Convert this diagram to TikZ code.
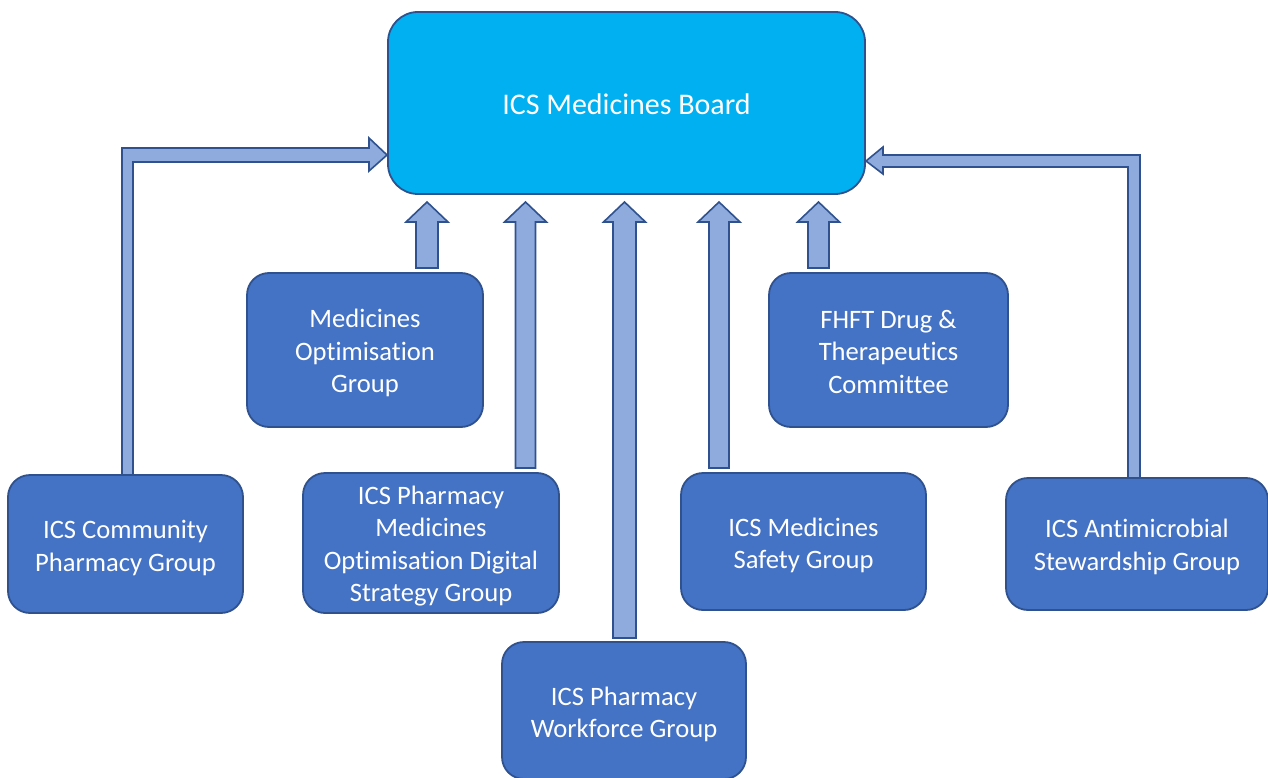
\documentclass[tikz,border=0pt]{standalone}
\usepackage{fontspec}
\setmainfont{Carlito}[Ligatures=NoCommon]
\definecolor{boxc}{HTML}{4472C4}
\definecolor{bordc}{HTML}{2F528F}
\definecolor{boardc}{HTML}{00B0F0}
\definecolor{arrc}{HTML}{8FAADC}
\newcommand{\uparr}[4]{% cx, bottom, shaft half width, head half width
  \filldraw[blk] ({#1-#3},#2) -- ({#1-#3},222) -- ({#1-#4},222) -- (#1,202) -- ({#1+#4},222) -- ({#1+#3},222) -- ({#1+#3},#2) -- cycle;}
\begin{document}
\begin{tikzpicture}[x=1pt,y=-1pt,
  box/.style={draw=bordc, fill=boxc, line width=1.8pt, rounded corners=22pt, inner sep=0pt},
  txt/.style={text=white, align=center, font=\fontsize{26.6pt}{32.5pt}\selectfont, inner sep=0pt},
  blk/.style={draw=bordc, fill=arrc, line width=1.6pt, line join=miter}]
\useasboundingbox (0,0) rectangle (1268,778);
\clip (0,0) rectangle (1268,778);
% block arrows
\filldraw[blk] (122,475) -- (122,148) -- (369,148) -- (369,138) -- (387,155) -- (369,171) -- (369,162) -- (133,162) -- (133,475) -- cycle;
\filldraw[blk] (1140,478) -- (1140,155) -- (883,155) -- (883,147) -- (866,161) -- (883,174) -- (883,167) -- (1128,167) -- (1128,478) -- cycle;
\uparr{427}{268}{11}{21}
\uparr{525.5}{468}{10}{21}
\uparr{624.5}{638}{11.5}{21}
\uparr{719}{468}{10}{21}
\uparr{818.5}{268}{10.5}{21}
% boxes
\node[box, fill=boardc, rounded corners=30pt, minimum width=477pt, minimum height=182pt] (board) at (626.5,103) {};
\node[txt, font=\fontsize{30pt}{36pt}\selectfont] (boardt) at (626.5,104.5) {ICS Medicines Board};
\node[box, minimum width=236pt, minimum height=154pt] (mog) at (365,350) {};
\node[txt] (mogt) at (365,353) {Medicines\\Optimisation\\Group};
\node[box, minimum width=239pt, minimum height=154pt] (fhft) at (888.5,350) {};
\node[txt] (fhftt) at (888.5,352) {FHFT Drug \&\\Therapeutics\\Committee};
\node[box, minimum width=235pt, minimum height=138pt] (comm) at (125.5,544) {};
\node[txt] (commt) at (125.5,548) {ICS Community\\Pharmacy Group};
\node[box, minimum width=256pt, minimum height=140pt] (dig) at (431,543) {};
\node[txt] (digt) at (431,546) {ICS Pharmacy\\Medicines\\Optimisation Digital\\Strategy Group};
\node[box, minimum width=245pt, minimum height=137pt] (safe) at (803.5,541.5) {};
\node[txt] (safet) at (803.5,545.5) {ICS Medicines\\Safety Group};
\node[box, minimum width=262pt, minimum height=132pt] (amr) at (1137,544) {};
\node[txt] (amrt) at (1137,547) {ICS Antimicrobial\\Stewardship Group};
\node[box, minimum width=244pt, minimum height=137pt] (wf) at (624,710.5) {};
\node[txt] (wft) at (624,714.5) {ICS Pharmacy\\Workforce Group};
\end{tikzpicture}
\end{document}
